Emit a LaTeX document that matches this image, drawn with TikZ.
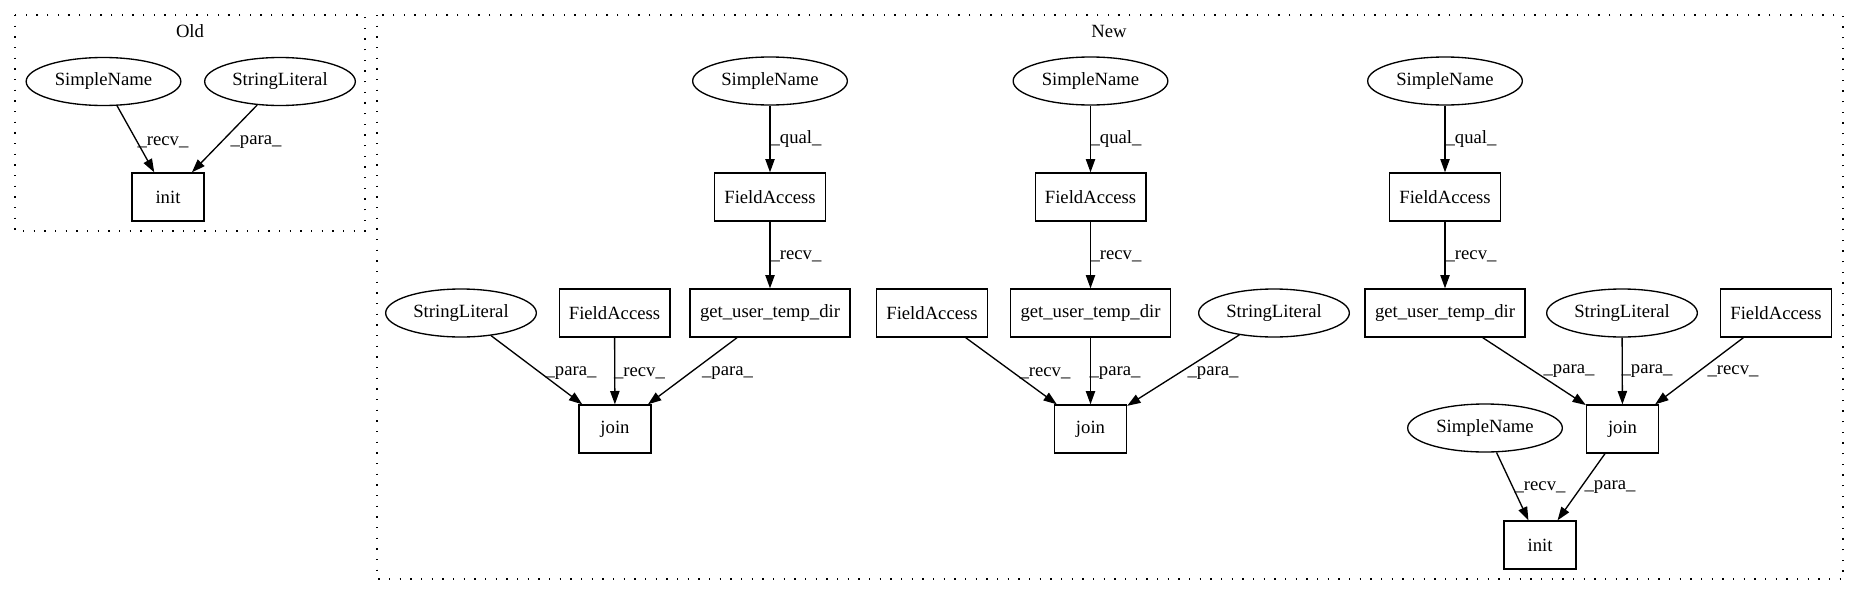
\documentclass[tikz,border=0pt]{standalone}
\usepackage{fontspec}
\setmainfont{Liberation Serif}
\usetikzlibrary{arrows.meta,shapes.geometric}
\begin{document}
\begin{tikzpicture}[x=0.75pt,y=-0.75pt,
  every node/.style={font=\fontsize{14pt}{16pt}\selectfont, inner sep=0pt},
  ell/.style={draw, ellipse, line width=1pt, minimum height=36pt, minimum width=116pt},
  sl/.style={ell, minimum width=113pt},
  box/.style={draw, rectangle, line width=1pt, minimum height=36pt},
  fa/.style={box, minimum width=83pt},
  gu/.style={box, minimum width=120pt},
  sm/.style={box, minimum width=54pt},
  edge/.style={draw, line width=1pt, -{Triangle[length=10pt,width=7pt]}},
  cluster/.style={draw, line width=1pt, dash pattern=on 1pt off 7pt}
]
\useasboundingbox (0,0) rectangle (1859,596);
\fill[white] (0,0) rectangle (1859,596);

% clusters
\draw[cluster] (15,15) rectangle (365,231);
\node (oldlbl) at (190,31) {Old};
\draw[cluster] (377,15) rectangle (1843,579);
\node (newlbl) at (1109,31) {New};

% Old
\node[ell] (osn) at (103.5,81.5) {SimpleName};
\node[sl] (osl) at (280,81.5) {StringLiteral};
\node[sm] (oinit) at (168,197) {init};
\draw[edge] (osn) -- (oinit);
\draw[edge] (osl) -- (oinit);
\node (l01) at (163,142) {\_recv\_};
\node (l02) at (256,142) {\_para\_};

% New, left group
\node[ell] (sn1) at (770,81) {SimpleName};
\node[fa] (fa1) at (770,197) {FieldAccess};
\node[gu] (gu1) at (770,313) {get\_user\_temp\_dir};
\node[sl] (sl1) at (461,313) {StringLiteral};
\node[fa] (fb1) at (614.5,313) {FieldAccess};
\node[sm] (join1) at (615,429) {join};
\draw[edge] (sn1) -- (fa1);
\draw[edge] (fa1) -- (gu1);
\draw[edge] (sl1) -- (join1);
\draw[edge] (fb1) -- (join1);
\draw[edge] (gu1) -- (join1);
\node (l11) at (796,139) {\_qual\_};
\node (l12) at (796,256) {\_recv\_};
\node (l13) at (571,373) {\_para\_};
\node (l14) at (639.5,373) {\_recv\_};
\node (l15) at (727.5,373) {\_para\_};

% New, middle group
\node[ell] (sn2) at (1090.5,81) {SimpleName};
\node[fa] (fa2) at (1090.5,197) {FieldAccess};
\node[gu] (gu2) at (1090.5,313) {get\_user\_temp\_dir};
\node[fa] (fb2) at (932,313) {FieldAccess};
\node[sl] (sl2) at (1274,313) {StringLiteral};
\node[sm] (join2) at (1090.5,429) {join};
\draw[edge] (sn2) -- (fa2);
\draw[edge] (fa2) -- (gu2);
\draw[edge] (fb2) -- (join2);
\draw[edge] (gu2) -- (join2);
\draw[edge] (sl2) -- (join2);
\node (l21) at (1116,139) {\_qual\_};
\node (l22) at (1116,256) {\_recv\_};
\node (l23) at (1045,373) {\_recv\_};
\node (l24) at (1115,373) {\_para\_};
\node (l25) at (1213,373) {\_para\_};

% New, right group
\node[ell] (sn3) at (1445,81) {SimpleName};
\node[fa] (fa3) at (1445,197) {FieldAccess};
\node[gu] (gu3) at (1445,313) {get\_user\_temp\_dir};
\node[sl] (sl3) at (1622,313) {StringLiteral};
\node[fa] (fb3) at (1776,313) {FieldAccess};
\node[sm] (join3) at (1622.5,429) {join};
\node[ell] (sn4) at (1485,428) {SimpleName};
\node[sm] (init3) at (1540,545) {init};
\draw[edge] (sn3) -- (fa3);
\draw[edge] (fa3) -- (gu3);
\draw[edge] (gu3) -- (join3);
\draw[edge] (sl3) -- (join3);
\draw[edge] (fb3) -- (join3);
\draw[edge] (sn4) -- (init3);
\draw[edge] (join3) -- (init3);
\node (l31) at (1471,139) {\_qual\_};
\node (l32) at (1471,256) {\_recv\_};
\node (l33) at (1569,371) {\_para\_};
\node (l34) at (1647,371) {\_para\_};
\node (l35) at (1733,371) {\_recv\_};
\node (l36) at (1540,487) {\_recv\_};
\node (l37) at (1610,487) {\_para\_};
\end{tikzpicture}
\end{document}
